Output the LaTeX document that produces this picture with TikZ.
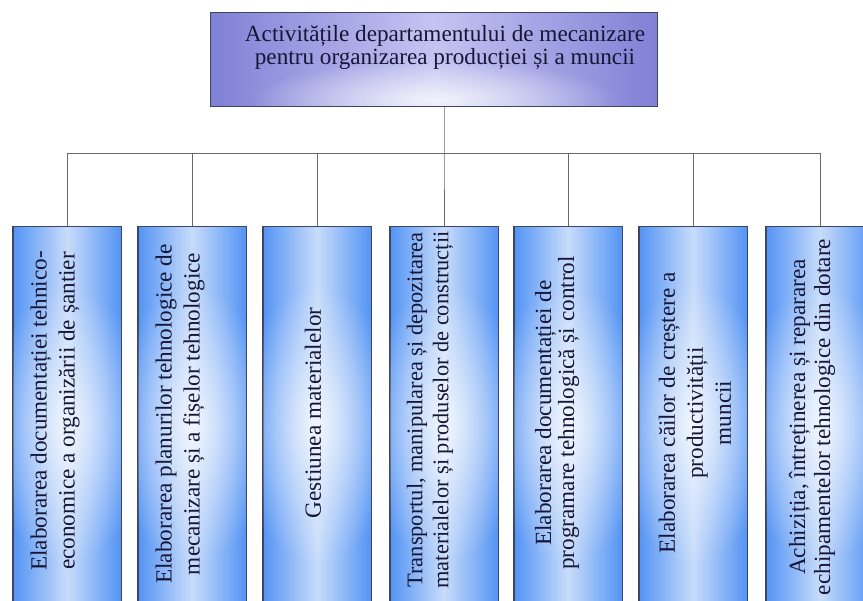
\documentclass[tikz,border=0pt]{standalone}
\usepackage{fontspec}
\setmainfont{Liberation Serif}
\usetikzlibrary{fadings}
\tikzfading[name=myglow, inner color=transparent!0, outer color=transparent!100]
\definecolor{topedge}{RGB}{128,128,214}
\definecolor{topmid}{RGB}{196,196,242}
\definecolor{chedge}{RGB}{84,148,244}
\definecolor{chmid}{RGB}{200,220,250}
\definecolor{txtcol}{RGB}{22,22,54}
\definecolor{bordcol}{RGB}{60,70,100}
\definecolor{linecol}{RGB}{105,105,105}
\tikzset{
  topbox/.style={draw=bordcol, line width=0.9pt, left color=topedge, right color=topedge, middle color=topmid,
    minimum width=447pt, minimum height=94pt, inner sep=0pt, anchor=north west},
  childbox/.style={draw=bordcol, line width=0.9pt, left color=chedge, right color=chedge, middle color=chmid,
    minimum width=108pt, minimum height=376pt, inner sep=0pt, anchor=north},
  vtext/.style={rotate=90, align=center, text=txtcol, inner sep=0pt, font=\fontsize{23.2}{#1}\selectfont},
  conn/.style={draw=linecol, line width=1pt},
  glow/.style={white, path fading=myglow, fit fading=true, fill opacity=#1}
}
\begin{document}
\begin{tikzpicture}[x=1pt,y=-1pt]
\useasboundingbox (0,0) rectangle (863,601);
\clip (0,0) rectangle (863,601);
\fill[white] (0,0) rectangle (863,601);
% top box
\node[topbox] (top) at (210,12) {};
\begin{scope}
\clip (top.south west) rectangle (top.north east);
\fill[glow=0.8] (250,60) rectangle (620,140);
\end{scope}
\draw[bordcol, line width=0.9pt] (top.south west) rectangle (top.north east);
\node[align=center, text=txtcol, inner sep=0pt, font=\fontsize{23.2}{23}\selectfont] (toptxt) at (445,47)
  {Activitățile departamentului de mecanizare\\pentru organizarea producției și a muncii};
% child boxes
\foreach \n/\x in {1/67,2/192,3/317,4/444,5/568,6/693,7/820}{
  \node[childbox] (c\n) at (\x,226) {};
  \begin{scope}
  \clip (c\n.south west) rectangle (c\n.north east);
  \fill[glow=0.75] ([xshift=-30pt,yshift=-60pt]c\n.north west) rectangle ([xshift=30pt,yshift=40pt]c\n.south east);
  \end{scope}
  \draw[bordcol, line width=0.9pt] (c\n.south west) rectangle (c\n.north east);
}
\node[vtext=28] (t1) at (55,411) {Elaborarea documentației tehnico-\\economice a organizării de șantier};
\node[vtext=28] (t2) at (180,414) {Elaborarea planurilor tehnologice de\\mecanizare și a fișelor tehnologice};
\node[vtext=28] (t3) at (313,413) {Gestiunea materialelor};
\node[vtext=26, font=\fontsize{22.4}{26}\selectfont] (t4) at (430,410) {Transportul, manipularea și depozitarea\\materialelor și produselor de construcții};
\node[vtext=23] (t5) at (557,413) {Elaborarea documentației de\\programare tehnologică și control};
\node[vtext=28] (t6) at (695,413) {Elaborarea căilor de creștere a\\productivității\\muncii};
\node[vtext=25] (t7) at (812,417) {Achiziția, întreținerea și repararea\\echipamentelor tehnologice din dotare};
% connectors
\coordinate (bus) at (444,154);
\draw[conn] (c4.north |- top.south) -- (bus) -- (c4.north);
\draw[conn] (c1.north) -- (c1.north |- bus) -- (c7.north |- bus) -- (c7.north);
\foreach \n in {2,3,5,6}{
  \draw[conn] (c\n.north |- bus) -- (c\n.north);
}
\end{tikzpicture}
\end{document}
